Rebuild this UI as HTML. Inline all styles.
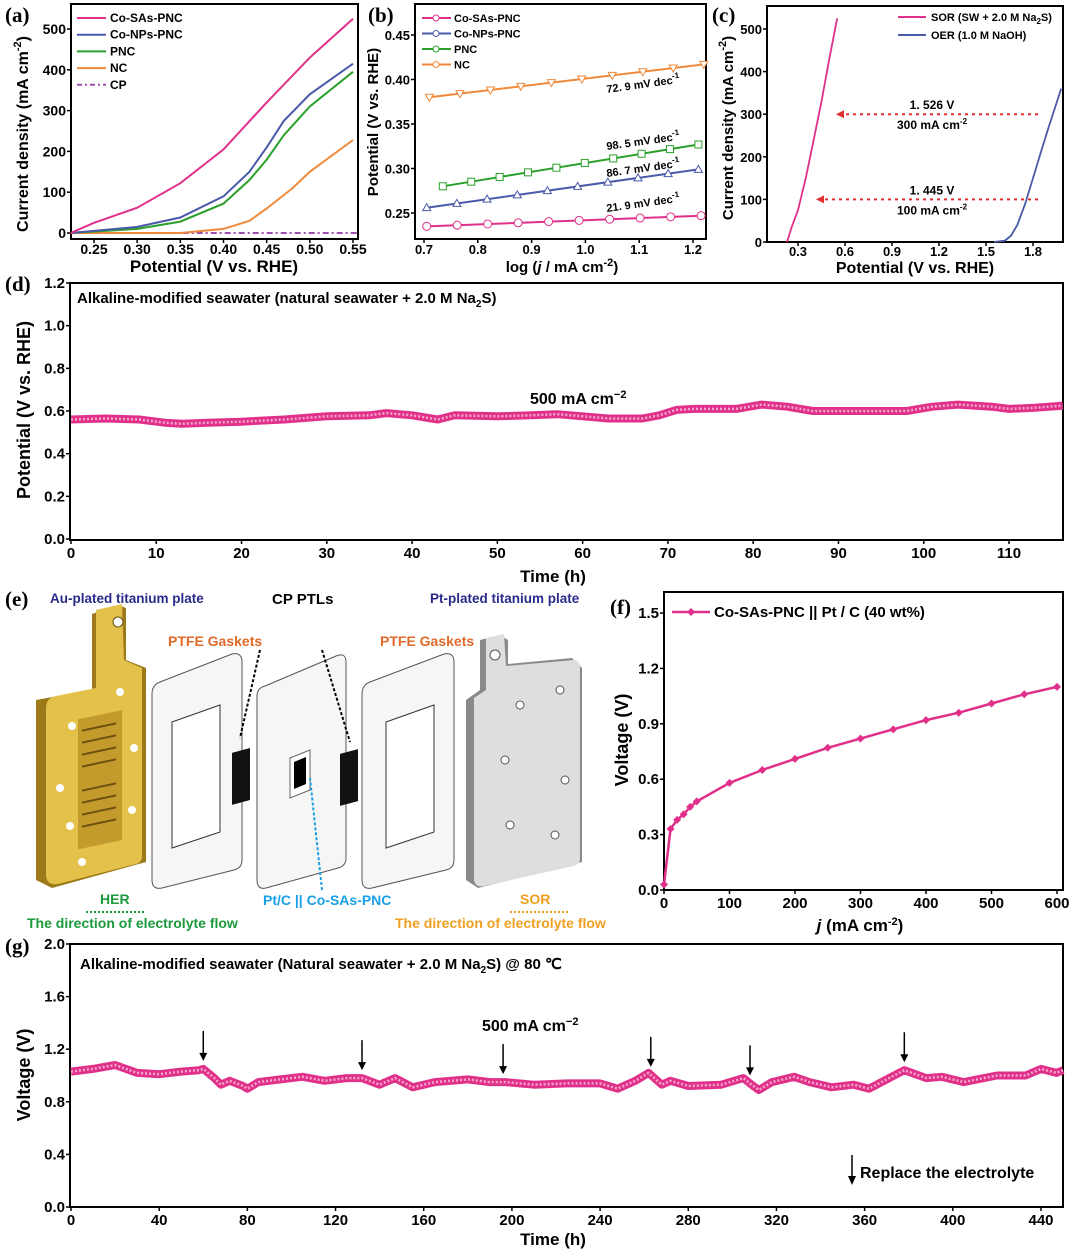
<!DOCTYPE html>
<html><head><meta charset="utf-8">
<style>
html,body{margin:0;padding:0;background:#fff;}
svg{display:block;font-family:"Liberation Sans",sans-serif;}
.t{font-weight:bold;fill:#000;}
.pl{font-family:"Liberation Serif",serif;font-weight:bold;}
</style></head>
<body>
<svg id="fig" width="1080" height="1252" viewBox="0 0 1080 1252" xmlns="http://www.w3.org/2000/svg">
<g id="pe">
  <text x="5" y="606" class="pl" style="font-size:21px">(e)</text>
  <text x="50" y="603" font-size="13.5" font-weight="bold" fill="#2a2a8a">Au-plated titanium plate</text>
  <text x="272" y="604" font-size="15" font-weight="bold" fill="#000">CP PTLs</text>
  <text x="430" y="603" font-size="13.5" font-weight="bold" fill="#2a2a8a">Pt-plated titanium plate</text>
  <text x="168" y="646" font-size="14" font-weight="bold" fill="#e06a2a">PTFE Gaskets</text>
  <text x="380" y="646" font-size="14" font-weight="bold" fill="#e06a2a">PTFE Gaskets</text>
  <g>
    <path d="M92,614 L118,605 L126,608 L126,660 L146,668 L146,862 L52,888 L36,880 L36,700 L92,690 Z" fill="#9c7a1a"/>
    <path d="M96,610 L122,604 L124,660 L142,668 L142,856 Q142,862 136,864 L58,884 Q46,886 46,874 L46,708 Q46,698 56,696 L96,688 Z" fill="#e3c14a"/>
    <circle cx="118" cy="622" r="5" fill="#fff" stroke="#6b5010"/>
    <rect x="78" y="718" width="44" height="130" fill="#c29b2c" transform="skewY(-12) translate(0,18)"/>
    <path d="M82,730 h34 M82,742 h34 M82,754 h34 M82,766 h34 M82,790 h34 M82,802 h34 M82,814 h34 M82,826 h34" stroke="#6b5010" stroke-width="2" transform="skewY(-12) translate(0,18)"/>
    <circle cx="72" cy="726" r="4" fill="#fff"/><circle cx="120" cy="692" r="4" fill="#fff"/>
    <circle cx="60" cy="788" r="4" fill="#fff"/><circle cx="134" cy="748" r="4" fill="#fff"/>
    <circle cx="70" cy="826" r="4" fill="#fff"/><circle cx="132" cy="810" r="4" fill="#fff"/>
    <circle cx="82" cy="862" r="4" fill="#fff"/>
  </g>
  <g>
    <path d="M160,682 L232,654 Q242,652 242,662 L242,860 Q242,868 234,870 L162,888 Q152,890 152,880 L152,694 Q152,685 160,682 Z" fill="#f6f6f6" stroke="#555"/>
    <path d="M172,722 L220,705 L220,832 L172,848 Z" fill="#fff" stroke="#333"/>
  </g>
  <rect x="232" y="750" width="18" height="52" fill="#111" transform="skewY(-15) translate(0,65)"/>
  <g>
    <path d="M265,686 L336,656 Q346,652 346,662 L346,858 Q346,866 338,868 L266,888 Q257,890 257,880 L257,696 Q257,688 265,686 Z" fill="#f6f6f6" stroke="#555"/>
    <path d="M290,758 L310,750 L310,790 L290,798 Z" fill="#fff" stroke="#666"/>
    <path d="M294,762 L306,757 L306,784 L294,789 Z" fill="#000"/>
  </g>
  <rect x="340" y="750" width="18" height="52" fill="#111" transform="skewY(-15) translate(0,95)"/>
  <g>
    <path d="M370,682 L444,654 Q454,652 454,662 L454,860 Q454,868 446,870 L372,888 Q362,890 362,880 L362,694 Q362,685 370,682 Z" fill="#f6f6f6" stroke="#555"/>
    <path d="M386,722 L434,705 L434,832 L386,848 Z" fill="#fff" stroke="#333"/>
  </g>
  <g>
    <path d="M480,640 L500,635 L508,640 L508,664 L572,658 L582,668 L582,862 L478,888 L466,880 L466,700 L480,690 Z" fill="#8a8a8a"/>
    <path d="M486,638 L504,634 L506,666 L574,660 Q580,660 580,668 L580,858 Q580,864 574,866 L484,886 Q474,888 474,878 L474,698 L486,690 Z" fill="#dedede"/>
    <circle cx="495" cy="655" r="5" fill="#fff" stroke="#555"/>
    <circle cx="520" cy="705" r="4" fill="#fff" stroke="#555"/><circle cx="560" cy="690" r="4" fill="#fff" stroke="#555"/>
    <circle cx="505" cy="760" r="4" fill="#fff" stroke="#555"/><circle cx="565" cy="780" r="4" fill="#fff" stroke="#555"/>
    <circle cx="510" cy="825" r="4" fill="#fff" stroke="#555"/><circle cx="555" cy="835" r="4" fill="#fff" stroke="#555"/>
  </g>
  <path d="M260,650 L240,738" stroke="#000" stroke-width="2" stroke-dasharray="3,2"/>
  <path d="M322,650 L350,742" stroke="#000" stroke-width="2" stroke-dasharray="3,2"/>
  <path d="M322,890 L310,778" stroke="#1a9ee0" stroke-width="2" stroke-dasharray="3,2"/>
  <text x="100" y="904" font-size="14" font-weight="bold" fill="#1a9a3a">HER</text>
  <path d="M86,912 H146" stroke="#1a9a3a" stroke-width="2" stroke-dasharray="2,2"/>
  <text x="27" y="928" font-size="14" font-weight="bold" fill="#1a9a3a">The direction of electrolyte flow</text>
  <text x="263" y="905" font-size="14" font-weight="bold" fill="#1aa0e8">Pt/C || Co-SAs-PNC</text>
  <text x="520" y="904" font-size="14" font-weight="bold" fill="#f0a020">SOR</text>
  <path d="M510,912 H568" stroke="#f0a020" stroke-width="2" stroke-dasharray="2,2"/>
  <text x="395" y="928" font-size="14" font-weight="bold" fill="#f0a020">The direction of electrolyte flow</text>
</g>
</svg>
<script>
// ---------- data ----------
const aX = [0.223,0.25,0.30,0.35,0.40,0.45,0.50,0.55];
const aSAs = [0,25,62,122,205,320,430,525];
const aNPsX = [0.223,0.30,0.35,0.40,0.43,0.45,0.47,0.50,0.55];
const aNPs = [0,15,38,90,150,210,275,340,415];
const aPNC = [0,10,28,72,130,180,240,310,395];
const aNCX = [0.223,0.35,0.40,0.43,0.45,0.48,0.50,0.55];
const aNC = [0,0,10,30,60,110,150,228];
const aXTicks = [0.25,0.30,0.35,0.40,0.45,0.50,0.55];
const aYTicks = [0,100,200,300,400,500];
const bXTicks = [0.7,0.8,0.9,1.0,1.1,1.2];
const bYTicks = [0.25,0.30,0.35,0.40,0.45];
const bSAsX = [0.705,1.215]; const bSAs = [0.235,0.247];
const bNPsX = [0.705,1.21]; const bNPs = [0.256,0.299];
const bPNCX = [0.735,1.21]; const bPNC = [0.280,0.327];
const bNCX = [0.71,1.22]; const bNC = [0.380,0.417];
const bSlopes = ["21. 9 mV dec","86. 7 mV dec","98. 5 mV dec","72. 9 mV dec"];
const cXTicks = [0.3,0.6,0.9,1.2,1.5,1.8];
const cYTicks = [0,100,200,300,400,500];
const cSORX = [0.23,0.26,0.30,0.35,0.40,0.45,0.50,0.55];
const cSOR = [0,35,75,150,240,330,430,525];
const cOERX = [1.55,1.62,1.66,1.70,1.75,1.80,1.85,1.90,1.98];
const cOER = [0,3,15,40,90,150,210,270,360];
const dT = [0,4,8,11,13,16,20,25,30,35,37,40,43,45,50,54,57,60,63,67,69,71,73,78,81,84,87,92,98,101,104,108,110,113,116.3];
const dV = [0.56,0.565,0.56,0.545,0.54,0.545,0.55,0.56,0.575,0.58,0.59,0.58,0.56,0.58,0.575,0.58,0.585,0.575,0.565,0.565,0.58,0.605,0.61,0.61,0.63,0.62,0.60,0.60,0.60,0.62,0.63,0.62,0.61,0.615,0.625];
const dXTicks = [0,10,20,30,40,50,60,70,80,90,100,110];
const dYTicks = [0,0.2,0.4,0.6,0.8,1.0,1.2];
const fJ = [0,10,20,30,40,50,100,150,200,250,300,350,400,450,500,550,600];
const fV = [0.03,0.33,0.38,0.41,0.45,0.48,0.58,0.65,0.71,0.77,0.82,0.87,0.92,0.96,1.01,1.06,1.10];
const fXTicks = [0,100,200,300,400,500,600];
const fYTicks = [0,0.3,0.6,0.9,1.2,1.5];
const gT = [0,10,20,30,40,50,58,60,65,68,72,78,80,85,95,105,115,125,132,140,147,155,165,180,190,197,210,225,240,248,256,262,268,272,280,295,305,308,312,318,328,335,345,355,362,370,378,388,395,405,420,433,440,447,450];
const gV = [1.03,1.05,1.08,1.02,1.01,1.03,1.04,1.05,0.98,0.93,0.96,0.92,0.90,0.95,0.97,0.99,0.96,0.98,0.98,0.93,0.98,0.91,0.95,0.97,0.95,0.95,0.93,0.94,0.94,0.90,0.96,1.02,0.93,0.96,0.92,0.93,0.98,0.94,0.89,0.95,0.99,0.95,0.91,0.93,0.90,0.97,1.04,0.98,0.99,0.95,1.00,1.00,1.05,1.02,1.04];
const gArrows = [60,132,196,263,308,378];
const gXTicks = [0,40,80,120,160,200,240,280,320,360,400,440];
const gYTicks = [0,0.4,0.8,1.2,1.6,2.0];

// ---------- helpers ----------
const NS = "http://www.w3.org/2000/svg";
const svg = document.getElementById('fig');
function mk(tag, attrs, name, parent){
  const el = document.createElementNS(NS, tag);
  for (const k in attrs) el.setAttribute(k, attrs[k]);
  
  
  (parent||svg).appendChild(el);
  return el;
}
function txt(x,y,s,name,extra){
  const ex = Object.assign({'font-size':14}, extra||{});
  const fs = ex['font-size']; delete ex['font-size'];
  const el = mk('text', Object.assign({x:x,y:y,'class':'t',style:'font-size:'+fs+'px'}, ex), name);
  el.innerHTML = s;
  return el;
}
function lin(d0,d1,r0,r1){ return v => r0 + (v-d0)*(r1-r0)/(d1-d0); }
function path(xs,ys,fx,fy){ return xs.map((v,i)=>(i?'L':'M')+fx(v).toFixed(1)+','+fy(ys[i]).toFixed(1)).join(' '); }
function frame(x0,y0,x1,y1,name){
  mk('rect',{x:x0,y:y0,width:x1-x0,height:y1-y0,fill:'none',stroke:'#000','stroke-width':2},name);
}
function xAxis(ticks,fx,yb,name,fmt,fs,off){
  ticks.forEach(t=>{
    mk('line',{x1:fx(t),x2:fx(t),y1:yb,y2:yb+4,stroke:'#000','stroke-width':1.5},name+'-tick');
    txt(fx(t),yb+(off||18),fmt(t),name+'-label',{'text-anchor':'middle','font-size':fs||14});
  });
}
function yAxis(ticks,fy,xl,name,fmt,fs){
  ticks.forEach(t=>{
    mk('line',{x1:xl,x2:xl-4,y1:fy(t),y2:fy(t),stroke:'#000','stroke-width':1.5},name+'-tick');
    txt(xl-5,fy(t)+5,fmt(t),name+'-label',{'text-anchor':'end','font-size':fs||14});
  });
}
function ytitle(x,y,s,name,fs){
  return txt(x,y,s,name,{'text-anchor':'middle','font-size':fs||17,transform:`rotate(-90 ${x} ${y})`});
}

// ---------- panel a ----------
{
  const fx = lin(0.25,0.55,94,353), fy = lin(0,500,233,29);
  txt(5,22,'(a)','panel-label-a',{'class':'pl','font-size':21});
  frame(71,4,358,239,'panel-a-frame');
  xAxis(aXTicks,fx,239,'a-x-tick',v=>v.toFixed(2),14,15);
  yAxis(aYTicks,fy,71,'a-y-tick',v=>v);
  txt(214,272,'Potential (V vs. RHE)','a-x-axis-title',{'text-anchor':'middle','font-size':17});
  ytitle(28,134,'Current density (mA cm<tspan dy="-7" style="font-size:11px">-2</tspan><tspan dy="7">)</tspan>','a-y-axis-title',16);
  mk('path',{d:`M${fx(0.223)},${fy(0)} H${fx(0.555)}`,stroke:'#a050b0','stroke-width':2,'stroke-dasharray':'6,3,2,3',fill:'none'},'a-line-cp');
  mk('path',{d:path(aNCX,aNC,fx,fy),stroke:'#f08a3a','stroke-width':2,fill:'none'},'a-line-nc');
  mk('path',{d:path(aNPsX,aPNC,fx,fy),stroke:'#2aa02a','stroke-width':2,fill:'none'},'a-line-pnc');
  mk('path',{d:path(aNPsX,aNPs,fx,fy),stroke:'#4a5aa8','stroke-width':2,fill:'none'},'a-line-co-nps');
  mk('path',{d:path(aX,aSAs,fx,fy),stroke:'#e0308a','stroke-width':2,fill:'none'},'a-line-co-sas');
  const leg = [['Co-SAs-PNC','#e0308a',''],['Co-NPs-PNC','#4a5aa8',''],['PNC','#2aa02a',''],['NC','#f08a3a',''],['CP','#a050b0','5,3,2,3']];
  leg.forEach((l,i)=>{
    const y = 18+i*16.7;
    mk('line',{x1:77,x2:106,y1:y,y2:y,stroke:l[1],'stroke-width':2,'stroke-dasharray':l[2]||'none'},'a-legend-swatch');
    txt(110,y+4,l[0],'a-legend-entry',{'font-size':12});
  });
}
// ---------- panel b ----------
{
  const fx = lin(0.7,1.2,424,693), fy = lin(0.25,0.45,213,35);
  txt(368,22,'(b)','panel-label-b',{'class':'pl','font-size':21});
  frame(415,4,706,239,'panel-b-frame');
  xAxis(bXTicks,fx,239,'b-x-tick',v=>v.toFixed(1),13,15);
  yAxis(bYTicks,fy,415,'b-y-tick',v=>v.toFixed(2),13);
  txt(562,272,'log (<tspan font-style="italic">j</tspan> / mA cm<tspan dy="-6" style="font-size:11px">-2</tspan><tspan dy="6">)</tspan>','b-x-axis-title',{'text-anchor':'middle','font-size':15});
  ytitle(378,122,'Potential (V vs. RHE)','b-y-axis-title',15);
  const series = [[bSAsX,bSAs,'#e0308a','o'],[bNPsX,bNPs,'#4a5aa8','^'],[bPNCX,bPNC,'#2aa02a','s'],[bNCX,bNC,'#f08a3a','v']];
  series.forEach((s,k)=>{
    mk('path',{d:path(s[0],s[1],fx,fy),stroke:s[2],'stroke-width':2,fill:'none'},'b-fit-line');
    const n=10;
    for(let i=0;i<n;i++){
      const xv = s[0][0]+(s[0][1]-s[0][0])*i/(n-1);
      const yv = s[1][0]+(s[1][1]-s[1][0])*i/(n-1);
      const cx=fx(xv), cy=fy(yv);
      if(s[3]==='o') mk('circle',{cx:cx,cy:cy,r:4,fill:'#fff',stroke:s[2]},'b-marker');
      else if(s[3]==='s') mk('rect',{x:cx-3.5,y:cy-3.5,width:7,height:7,fill:'#fff',stroke:s[2]},'b-marker');
      else if(s[3]==='^') mk('path',{d:`M${cx},${cy-4}L${cx+4},${cy+3}L${cx-4},${cy+3}Z`,fill:'#fff',stroke:s[2]},'b-marker');
      else mk('path',{d:`M${cx},${cy+4}L${cx+4},${cy-3}L${cx-4},${cy-3}Z`,fill:'#fff',stroke:s[2]},'b-marker');
    }
  });
  const lab = [[607,212,'#e0308a'],[607,177,'#4a5aa8'],[607,150,'#2aa02a'],[607,93,'#f08a3a']];
  lab.forEach((l,i)=>{
    txt(l[0],l[1],bSlopes[i]+'<tspan dy="-5" style="font-size:8px">-1</tspan>','b-slope-label',{fill:l[2],'font-size':11,transform:`rotate(-8 ${l[0]} ${l[1]})`});
  });
  const leg=[['Co-SAs-PNC','#e0308a'],['Co-NPs-PNC','#4a5aa8'],['PNC','#2aa02a'],['NC','#f08a3a']];
  leg.forEach((l,i)=>{
    const y=18+i*15.5;
    mk('line',{x1:422,x2:451,y1:y,y2:y,stroke:l[1],'stroke-width':2},'b-legend-swatch');
    mk('circle',{cx:436,cy:y,r:3,fill:'#fff',stroke:l[1]},'b-legend-marker');
    txt(454,y+4,l[0],'b-legend-entry',{'font-size':11});
  });
}
// ---------- panel c ----------
{
  const fx = lin(0.3,1.8,798,1033), fy = lin(0,500,242,29);
  txt(712,22,'(c)','panel-label-c',{'class':'pl','font-size':21});
  frame(767,6,1063,242,'panel-c-frame');
  xAxis(cXTicks,fx,242,'c-x-tick',v=>v.toFixed(1),13,14);
  yAxis(cYTicks,fy,767,'c-y-tick',v=>v,13);
  txt(915,273,'Potential (V vs. RHE)','c-x-axis-title',{'text-anchor':'middle','font-size':16});
  ytitle(733,128,'Current density (mA cm<tspan dy="-7" style="font-size:11px">-2</tspan><tspan dy="7">)</tspan>','c-y-axis-title',15);
  mk('path',{d:path(cSORX,cSOR,fx,fy),stroke:'#e0308a','stroke-width':1.8,fill:'none'},'c-line-sor');
  mk('path',{d:path(cOERX,cOER,fx,fy),stroke:'#4a5aa8','stroke-width':1.8,fill:'none'},'c-line-oer');
  [[300,'1. 526 V','300 mA cm',836],[100,'1. 445 V','100 mA cm',816]].forEach(a=>{
    const y=fy(a[0]);
    mk('line',{x1:1038,x2:a[3]+8,y1:y,y2:y,stroke:'#e03030','stroke-width':2,'stroke-dasharray':'3,4'},'c-dashed-arrow');
    mk('path',{d:`M${a[3]},${y}l8,-4v8z`,fill:'#e03030'},'c-arrow-head');
    txt(932,y-5,a[1],'c-annotation-voltage',{fill:'#e03030','font-size':12,'text-anchor':'middle'});
    txt(932,y+15,a[2]+'<tspan dy="-5" style="font-size:8px">-2</tspan>','c-annotation-current',{fill:'#e03030','font-size':12,'text-anchor':'middle'});
  });
  mk('line',{x1:898,x2:926,y1:17,y2:17,stroke:'#e0308a','stroke-width':2},'c-legend-swatch');
  txt(931,21,'SOR (SW + 2.0 M Na<tspan dy="3" style="font-size:8px">2</tspan><tspan dy="-3">S)</tspan>','c-legend-entry',{'font-size':11});
  mk('line',{x1:898,x2:926,y1:35,y2:35,stroke:'#4a5aa8','stroke-width':2},'c-legend-swatch');
  txt(931,39,'OER (1.0 M NaOH)','c-legend-entry',{'font-size':11});
}
// ---------- panel d ----------
{
  const fx = lin(0,110,71,1009), fy = lin(0,1.2,539,283);
  txt(5,291,'(d)','panel-label-d',{'class':'pl','font-size':21});
  frame(70,283,1063,540,'panel-d-frame');
  xAxis(dXTicks,fx,540,'d-x-tick',v=>v,15);
  yAxis(dYTicks,fy,70,'d-y-tick',v=>v.toFixed(1),15);
  txt(553,582,'Time (h)','d-x-axis-title',{'text-anchor':'middle','font-size':17});
  ytitle(30,410,'Potential (V vs. RHE)','d-y-axis-title',18);
  txt(77,303,'Alkaline-modified seawater (natural seawater + 2.0 M Na<tspan dy="4" style="font-size:10px">2</tspan><tspan dy="-4">S)</tspan>','d-annotation',{'font-size':15});
  txt(530,404,'500 mA cm<tspan dy="-6" style="font-size:11px">−2</tspan>','d-current-label',{fill:'#e0308a','font-size':16});
  mk('path',{d:path(dT,dV,fx,fy),stroke:'#e0308a','stroke-width':8,fill:'none','stroke-linejoin':'round'},'d-line-outer');
  mk('path',{d:path(dT,dV,fx,fy),stroke:'#f5a8cc','stroke-width':2.5,fill:'none','stroke-dasharray':'2,2'},'d-line-markers');
}
// ---------- panel f ----------
{
  const fx = lin(0,600,664,1057), fy = lin(0,1.5,890,613);
  txt(610,614,'(f)','panel-label-f',{'class':'pl','font-size':21});
  frame(664,592,1063,890,'panel-f-frame');
  xAxis(fXTicks,fx,890,'f-x-tick',v=>v,15);
  yAxis(fYTicks,fy,664,'f-y-tick',v=>v.toFixed(1),15);
  txt(860,931,'<tspan font-style="italic">j</tspan> (mA cm<tspan dy="-6" style="font-size:11px">-2</tspan><tspan dy="6">)</tspan>','f-x-axis-title',{'text-anchor':'middle','font-size':17});
  ytitle(628,740,'Voltage (V)','f-y-axis-title',18);
  mk('path',{d:path(fJ,fV,fx,fy),stroke:'#e0308a','stroke-width':2.5,fill:'none'},'f-line');
  fJ.forEach((j,i)=>{ const cx=fx(j),cy=fy(fV[i]);
    mk('path',{d:`M${cx},${cy-4}L${cx+4},${cy}L${cx},${cy+4}L${cx-4},${cy}Z`,fill:'#e0308a'},'f-marker'); });
  mk('line',{x1:672,x2:710,y1:612,y2:612,stroke:'#e0308a','stroke-width':2.5},'f-legend-swatch');
  mk('path',{d:'M691,608L695,612L691,616L687,612Z',fill:'#e0308a'},'f-legend-marker');
  txt(714,617,'Co-SAs-PNC || Pt / C (40 wt%)','f-legend-entry',{'font-size':15});
}
// ---------- panel g ----------
{
  const fx = lin(0,440,71,1041), fy = lin(0,2.0,1207,944);
  txt(5,953,'(g)','panel-label-g',{'class':'pl','font-size':21});
  frame(70,944,1063,1207,'panel-g-frame');
  xAxis(gXTicks,fx,1207,'g-x-tick',v=>v,15);
  yAxis(gYTicks,fy,70,'g-y-tick',v=>v.toFixed(1),15);
  txt(553,1245,'Time (h)','g-x-axis-title',{'text-anchor':'middle','font-size':17});
  ytitle(30,1075,'Voltage (V)','g-y-axis-title',18);
  txt(80,969,'Alkaline-modified seawater (Natural seawater + 2.0 M Na<tspan dy="4" style="font-size:10px">2</tspan><tspan dy="-4">S) @ 80 ℃</tspan>','g-annotation',{'font-size':15});
  txt(482,1031,'500 mA cm<tspan dy="-6" style="font-size:11px">−2</tspan>','g-current-label',{fill:'#e0308a','font-size':16});
  mk('path',{d:path(gT,gV,fx,fy),stroke:'#e0308a','stroke-width':8,fill:'none','stroke-linejoin':'round'},'g-line-outer');
  mk('path',{d:path(gT,gV,fx,fy),stroke:'#f5a8cc','stroke-width':2.5,fill:'none','stroke-dasharray':'2,2'},'g-line-markers');
  gArrows.forEach(t=>{
    let v=0; for(let i=0;i<gT.length-1;i++){ if(t>=gT[i]&&t<=gT[i+1]){ v=gV[i]+(gV[i+1]-gV[i])*(t-gT[i])/(gT[i+1]-gT[i]); } }
    const x=fx(t), y=fy(v)-8;
    mk('line',{x1:x,x2:x,y1:y-30,y2:y-6,stroke:'#000','stroke-width':1.5},'g-replace-arrow');
    mk('path',{d:`M${x-4},${y-8}L${x+4},${y-8}L${x},${y}Z`,fill:'#000'},'g-replace-arrowhead');
  });
  mk('line',{x1:852,x2:852,y1:1155,y2:1178,stroke:'#000','stroke-width':1.5},'g-legend-arrow');
  mk('path',{d:'M848,1176L856,1176L852,1185Z',fill:'#000'},'g-legend-arrowhead');
  txt(860,1178,'Replace the electrolyte','g-legend-entry',{'font-size':16});
}
</script>
</body></html>
